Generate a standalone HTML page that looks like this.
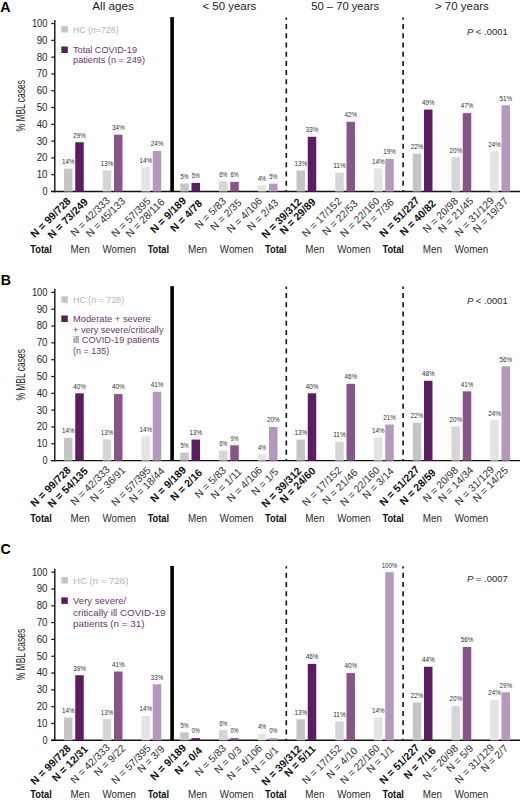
<!DOCTYPE html>
<html><head><meta charset="utf-8"><style>
html,body{margin:0;padding:0;background:#fff;width:520px;height:800px;overflow:hidden;font-family:"Liberation Sans", sans-serif;}
svg{display:block;}
</style></head><body>
<svg width="520" height="800" viewBox="0 0 520 800" font-family='"Liberation Sans", sans-serif'>
<text x="0.3" y="11.9" font-size="14.2" font-weight="bold" fill="#000">A</text>
<line x1="54.8" y1="20.00" x2="54.8" y2="192.20" stroke="#111" stroke-width="1.4"/>
<line x1="51.3" y1="191.50" x2="55" y2="191.50" stroke="#111" stroke-width="1.2"/>
<text x="47.5" y="194.90" font-size="10.2" fill="#262626" text-anchor="end" textLength="5.1" lengthAdjust="spacingAndGlyphs">0</text>
<line x1="51.3" y1="174.71" x2="55" y2="174.71" stroke="#111" stroke-width="1.2"/>
<text x="47.5" y="178.11" font-size="10.2" fill="#262626" text-anchor="end" textLength="10.8" lengthAdjust="spacingAndGlyphs">10</text>
<line x1="51.3" y1="157.91" x2="55" y2="157.91" stroke="#111" stroke-width="1.2"/>
<text x="47.5" y="161.31" font-size="10.2" fill="#262626" text-anchor="end" textLength="10.8" lengthAdjust="spacingAndGlyphs">20</text>
<line x1="51.3" y1="141.12" x2="55" y2="141.12" stroke="#111" stroke-width="1.2"/>
<text x="47.5" y="144.52" font-size="10.2" fill="#262626" text-anchor="end" textLength="10.8" lengthAdjust="spacingAndGlyphs">30</text>
<line x1="51.3" y1="124.32" x2="55" y2="124.32" stroke="#111" stroke-width="1.2"/>
<text x="47.5" y="127.72" font-size="10.2" fill="#262626" text-anchor="end" textLength="10.8" lengthAdjust="spacingAndGlyphs">40</text>
<line x1="51.3" y1="107.53" x2="55" y2="107.53" stroke="#111" stroke-width="1.2"/>
<text x="47.5" y="110.93" font-size="10.2" fill="#262626" text-anchor="end" textLength="10.8" lengthAdjust="spacingAndGlyphs">50</text>
<line x1="51.3" y1="90.74" x2="55" y2="90.74" stroke="#111" stroke-width="1.2"/>
<text x="47.5" y="94.14" font-size="10.2" fill="#262626" text-anchor="end" textLength="10.8" lengthAdjust="spacingAndGlyphs">60</text>
<line x1="51.3" y1="73.94" x2="55" y2="73.94" stroke="#111" stroke-width="1.2"/>
<text x="47.5" y="77.34" font-size="10.2" fill="#262626" text-anchor="end" textLength="10.8" lengthAdjust="spacingAndGlyphs">70</text>
<line x1="51.3" y1="57.15" x2="55" y2="57.15" stroke="#111" stroke-width="1.2"/>
<text x="47.5" y="60.55" font-size="10.2" fill="#262626" text-anchor="end" textLength="10.8" lengthAdjust="spacingAndGlyphs">80</text>
<line x1="51.3" y1="40.35" x2="55" y2="40.35" stroke="#111" stroke-width="1.2"/>
<text x="47.5" y="43.75" font-size="10.2" fill="#262626" text-anchor="end" textLength="10.8" lengthAdjust="spacingAndGlyphs">90</text>
<line x1="51.3" y1="23.56" x2="55" y2="23.56" stroke="#111" stroke-width="1.2"/>
<text x="47.5" y="26.96" font-size="10.2" fill="#262626" text-anchor="end" textLength="15.6" lengthAdjust="spacingAndGlyphs">100</text>
<text x="0" y="0" font-size="12.6" fill="#262626" text-anchor="middle" textLength="51.5" lengthAdjust="spacingAndGlyphs" transform="translate(24.9 105.75) rotate(-90)">% MBL cases</text>
<line x1="51.2" y1="191.50" x2="520" y2="191.50" stroke="#111" stroke-width="1.4"/>
<rect x="170.3" y="17.10" width="3.6" height="174.40" fill="#000"/>
<line x1="286.3" y1="17.50" x2="286.3" y2="191.50" stroke="#111" stroke-width="1.6" stroke-dasharray="5 4.22" stroke-dashoffset="2.72"/>
<line x1="403.1" y1="17.50" x2="403.1" y2="191.50" stroke="#111" stroke-width="1.6" stroke-dasharray="5 4.22" stroke-dashoffset="2.72"/>
<rect x="64.00" y="168.66" width="8.5" height="22.84" fill="#c5c5c5"/>
<text x="68.25" y="164.06" font-size="7.2" fill="#2e2e2e" text-anchor="middle" textLength="12.6" lengthAdjust="spacingAndGlyphs">14%</text>
<rect x="75.25" y="142.26" width="8.5" height="49.24" fill="#5c1c64"/>
<text x="79.50" y="137.56" font-size="7.2" fill="#2e2e2e" text-anchor="middle" textLength="12.6" lengthAdjust="spacingAndGlyphs">29%</text>
<rect x="102.75" y="170.32" width="8.5" height="21.18" fill="#d6d6d6"/>
<text x="107.00" y="165.72" font-size="7.2" fill="#2e2e2e" text-anchor="middle" textLength="12.6" lengthAdjust="spacingAndGlyphs">13%</text>
<rect x="114.00" y="134.68" width="8.5" height="56.82" fill="#87558a"/>
<text x="118.25" y="129.98" font-size="7.2" fill="#2e2e2e" text-anchor="middle" textLength="12.6" lengthAdjust="spacingAndGlyphs">34%</text>
<rect x="141.50" y="167.27" width="8.5" height="24.23" fill="#e4e4e4"/>
<text x="145.75" y="162.67" font-size="7.2" fill="#2e2e2e" text-anchor="middle" textLength="12.6" lengthAdjust="spacingAndGlyphs">14%</text>
<rect x="152.75" y="150.96" width="8.5" height="40.54" fill="#b598bd"/>
<text x="157.00" y="146.26" font-size="7.2" fill="#2e2e2e" text-anchor="middle" textLength="12.6" lengthAdjust="spacingAndGlyphs">24%</text>
<rect x="180.25" y="183.50" width="8.5" height="8.00" fill="#c5c5c5"/>
<text x="184.50" y="178.90" font-size="7.2" fill="#2e2e2e" text-anchor="middle" textLength="8.2" lengthAdjust="spacingAndGlyphs">5%</text>
<rect x="191.50" y="182.89" width="8.5" height="8.61" fill="#5c1c64"/>
<text x="195.75" y="178.19" font-size="7.2" fill="#2e2e2e" text-anchor="middle" textLength="8.2" lengthAdjust="spacingAndGlyphs">5%</text>
<rect x="219.00" y="181.38" width="8.5" height="10.12" fill="#d6d6d6"/>
<text x="223.25" y="176.78" font-size="7.2" fill="#2e2e2e" text-anchor="middle" textLength="8.2" lengthAdjust="spacingAndGlyphs">6%</text>
<rect x="230.25" y="181.90" width="8.5" height="9.60" fill="#87558a"/>
<text x="234.50" y="177.20" font-size="7.2" fill="#2e2e2e" text-anchor="middle" textLength="8.2" lengthAdjust="spacingAndGlyphs">6%</text>
<rect x="257.75" y="185.16" width="8.5" height="6.34" fill="#e4e4e4"/>
<text x="262.00" y="180.56" font-size="7.2" fill="#2e2e2e" text-anchor="middle" textLength="8.2" lengthAdjust="spacingAndGlyphs">4%</text>
<rect x="269.00" y="183.69" width="8.5" height="7.81" fill="#b598bd"/>
<text x="273.25" y="178.99" font-size="7.2" fill="#2e2e2e" text-anchor="middle" textLength="8.2" lengthAdjust="spacingAndGlyphs">5%</text>
<rect x="296.50" y="170.51" width="8.5" height="20.99" fill="#c5c5c5"/>
<text x="300.75" y="165.91" font-size="7.2" fill="#2e2e2e" text-anchor="middle" textLength="12.6" lengthAdjust="spacingAndGlyphs">13%</text>
<rect x="307.75" y="136.78" width="8.5" height="54.72" fill="#5c1c64"/>
<text x="312.00" y="132.08" font-size="7.2" fill="#2e2e2e" text-anchor="middle" textLength="12.6" lengthAdjust="spacingAndGlyphs">33%</text>
<rect x="335.25" y="172.72" width="8.5" height="18.78" fill="#d6d6d6"/>
<text x="339.50" y="168.12" font-size="7.2" fill="#2e2e2e" text-anchor="middle" textLength="12.6" lengthAdjust="spacingAndGlyphs">11%</text>
<rect x="346.50" y="121.79" width="8.5" height="69.71" fill="#87558a"/>
<text x="350.75" y="117.09" font-size="7.2" fill="#2e2e2e" text-anchor="middle" textLength="12.6" lengthAdjust="spacingAndGlyphs">42%</text>
<rect x="374.00" y="168.41" width="8.5" height="23.09" fill="#e4e4e4"/>
<text x="378.25" y="163.81" font-size="7.2" fill="#2e2e2e" text-anchor="middle" textLength="12.6" lengthAdjust="spacingAndGlyphs">14%</text>
<rect x="385.25" y="158.84" width="8.5" height="32.65" fill="#b598bd"/>
<text x="389.50" y="154.15" font-size="7.2" fill="#2e2e2e" text-anchor="middle" textLength="12.6" lengthAdjust="spacingAndGlyphs">19%</text>
<rect x="412.75" y="153.77" width="8.5" height="37.73" fill="#c5c5c5"/>
<text x="417.00" y="149.17" font-size="7.2" fill="#2e2e2e" text-anchor="middle" textLength="12.6" lengthAdjust="spacingAndGlyphs">22%</text>
<rect x="424.00" y="109.58" width="8.5" height="81.92" fill="#5c1c64"/>
<text x="428.25" y="104.88" font-size="7.2" fill="#2e2e2e" text-anchor="middle" textLength="12.6" lengthAdjust="spacingAndGlyphs">49%</text>
<rect x="451.50" y="157.23" width="8.5" height="34.27" fill="#d6d6d6"/>
<text x="455.75" y="152.63" font-size="7.2" fill="#2e2e2e" text-anchor="middle" textLength="12.6" lengthAdjust="spacingAndGlyphs">20%</text>
<rect x="462.75" y="113.13" width="8.5" height="78.37" fill="#87558a"/>
<text x="467.00" y="108.43" font-size="7.2" fill="#2e2e2e" text-anchor="middle" textLength="12.6" lengthAdjust="spacingAndGlyphs">47%</text>
<rect x="490.25" y="151.14" width="8.5" height="40.36" fill="#e4e4e4"/>
<text x="494.50" y="146.54" font-size="7.2" fill="#2e2e2e" text-anchor="middle" textLength="12.6" lengthAdjust="spacingAndGlyphs">24%</text>
<rect x="501.50" y="105.26" width="8.5" height="86.24" fill="#b598bd"/>
<text x="505.75" y="100.56" font-size="7.2" fill="#2e2e2e" text-anchor="middle" textLength="12.6" lengthAdjust="spacingAndGlyphs">51%</text>
<text x="0" y="0" font-size="10.5" font-weight="bold" fill="#111" text-anchor="end" transform="translate(71.40 201.80) rotate(-45)">N = 99/728</text>
<text x="0" y="0" font-size="10.5" font-weight="bold" fill="#111" text-anchor="end" transform="translate(88.60 202.60) rotate(-45)">N = 73/249</text>
<text x="0" y="0" font-size="10.3" fill="#2e2e2e" text-anchor="end" transform="translate(110.60 201.10) rotate(-45)">N = 42/333</text>
<text x="0" y="0" font-size="10.3" fill="#2e2e2e" text-anchor="end" transform="translate(126.00 201.80) rotate(-45)">N = 45/133</text>
<text x="0" y="0" font-size="10.3" fill="#2e2e2e" text-anchor="end" transform="translate(151.40 201.80) rotate(-45)">N = 57/395</text>
<text x="0" y="0" font-size="10.3" fill="#2e2e2e" text-anchor="end" transform="translate(165.20 202.60) rotate(-45)">N = 28/116</text>
<text x="0" y="0" font-size="10.5" font-weight="bold" fill="#111" text-anchor="end" transform="translate(186.80 201.40) rotate(-45)">N = 9/189</text>
<text x="0" y="0" font-size="10.5" font-weight="bold" fill="#111" text-anchor="end" transform="translate(202.90 204.20) rotate(-45)">N = 4/78</text>
<text x="0" y="0" font-size="10.3" fill="#2e2e2e" text-anchor="end" transform="translate(226.80 201.80) rotate(-45)">N = 5/83</text>
<text x="0" y="0" font-size="10.3" fill="#2e2e2e" text-anchor="end" transform="translate(242.20 203.40) rotate(-45)">N = 2/35</text>
<text x="0" y="0" font-size="10.3" fill="#2e2e2e" text-anchor="end" transform="translate(262.90 201.80) rotate(-45)">N = 4/106</text>
<text x="0" y="0" font-size="10.3" fill="#2e2e2e" text-anchor="end" transform="translate(279.10 203.40) rotate(-45)">N = 2/43</text>
<text x="0" y="0" font-size="10.5" font-weight="bold" fill="#111" text-anchor="end" transform="translate(302.20 202.50) rotate(-45)">N = 39/312</text>
<text x="0" y="0" font-size="10.5" font-weight="bold" fill="#111" text-anchor="end" transform="translate(316.30 202.50) rotate(-45)">N = 29/89</text>
<text x="0" y="0" font-size="10.3" fill="#2e2e2e" text-anchor="end" transform="translate(342.20 201.80) rotate(-45)">N = 17/152</text>
<text x="0" y="0" font-size="10.3" fill="#2e2e2e" text-anchor="end" transform="translate(358.30 204.20) rotate(-45)">N = 22/53</text>
<text x="0" y="0" font-size="10.3" fill="#2e2e2e" text-anchor="end" transform="translate(380.20 201.80) rotate(-45)">N = 22/160</text>
<text x="0" y="0" font-size="10.3" fill="#2e2e2e" text-anchor="end" transform="translate(394.50 202.90) rotate(-45)">N = 7/36</text>
<text x="0" y="0" font-size="10.5" font-weight="bold" fill="#111" text-anchor="end" transform="translate(420.20 201.10) rotate(-45)">N = 51/227</text>
<text x="0" y="0" font-size="10.5" font-weight="bold" fill="#111" text-anchor="end" transform="translate(436.40 204.20) rotate(-45)">N = 40/82</text>
<text x="0" y="0" font-size="10.3" fill="#2e2e2e" text-anchor="end" transform="translate(458.70 201.80) rotate(-45)">N = 20/98</text>
<text x="0" y="0" font-size="10.3" fill="#2e2e2e" text-anchor="end" transform="translate(474.10 201.80) rotate(-45)">N = 21/45</text>
<text x="0" y="0" font-size="10.3" fill="#2e2e2e" text-anchor="end" transform="translate(494.80 201.10) rotate(-45)">N = 31/129</text>
<text x="0" y="0" font-size="10.3" fill="#2e2e2e" text-anchor="end" transform="translate(508.70 201.80) rotate(-45)">N = 19/37</text>
<text x="41.00" y="252.50" font-size="10" font-weight="bold" fill="#111" text-anchor="middle" textLength="21.5" lengthAdjust="spacingAndGlyphs">Total</text>
<text x="80.13" y="252.50" font-size="10" fill="#2c2c2c" text-anchor="middle" textLength="19.2" lengthAdjust="spacingAndGlyphs">Men</text>
<text x="119.26" y="252.50" font-size="10" fill="#2c2c2c" text-anchor="middle" textLength="33.6" lengthAdjust="spacingAndGlyphs">Women</text>
<text x="158.39" y="252.50" font-size="10" font-weight="bold" fill="#111" text-anchor="middle" textLength="21.5" lengthAdjust="spacingAndGlyphs">Total</text>
<text x="197.52" y="252.50" font-size="10" fill="#2c2c2c" text-anchor="middle" textLength="19.2" lengthAdjust="spacingAndGlyphs">Men</text>
<text x="236.65" y="252.50" font-size="10" fill="#2c2c2c" text-anchor="middle" textLength="33.6" lengthAdjust="spacingAndGlyphs">Women</text>
<text x="275.78" y="252.50" font-size="10" font-weight="bold" fill="#111" text-anchor="middle" textLength="21.5" lengthAdjust="spacingAndGlyphs">Total</text>
<text x="314.91" y="252.50" font-size="10" fill="#2c2c2c" text-anchor="middle" textLength="19.2" lengthAdjust="spacingAndGlyphs">Men</text>
<text x="354.04" y="252.50" font-size="10" fill="#2c2c2c" text-anchor="middle" textLength="33.6" lengthAdjust="spacingAndGlyphs">Women</text>
<text x="393.17" y="252.50" font-size="10" font-weight="bold" fill="#111" text-anchor="middle" textLength="21.5" lengthAdjust="spacingAndGlyphs">Total</text>
<text x="432.30" y="252.50" font-size="10" fill="#2c2c2c" text-anchor="middle" textLength="19.2" lengthAdjust="spacingAndGlyphs">Men</text>
<text x="471.43" y="252.50" font-size="10" fill="#2c2c2c" text-anchor="middle" textLength="33.6" lengthAdjust="spacingAndGlyphs">Women</text>
<rect x="61.3" y="26.00" width="6.5" height="6.5" fill="#c5c5c5"/>
<text x="73" y="33.00" font-size="9.3" fill="#b4b4b4" textLength="45.6" lengthAdjust="spacingAndGlyphs">HC (<tspan font-style="italic">n</tspan>=728)</text>
<rect x="61.3" y="46.50" width="6.5" height="6.5" fill="#5c1c62"/>
<text x="73" y="53.00" font-size="9.3" fill="#6a3570" textLength="64" lengthAdjust="spacingAndGlyphs">Total COVID-19</text>
<text x="73" y="63.30" font-size="9.3" fill="#6a3570" textLength="72" lengthAdjust="spacingAndGlyphs">patients (n = 249)</text>
<text x="466.9" y="35.30" font-size="9.6" fill="#2a2a2a" textLength="40.8" lengthAdjust="spacingAndGlyphs"><tspan font-style="italic">P</tspan> &lt; .0001</text>
<text x="0.8" y="285.2" font-size="14.2" font-weight="bold" fill="#000">B</text>
<line x1="54.8" y1="289.10" x2="54.8" y2="461.30" stroke="#111" stroke-width="1.4"/>
<line x1="51.3" y1="460.60" x2="55" y2="460.60" stroke="#111" stroke-width="1.2"/>
<text x="47.5" y="464.00" font-size="10.2" fill="#262626" text-anchor="end" textLength="5.1" lengthAdjust="spacingAndGlyphs">0</text>
<line x1="51.3" y1="443.78" x2="55" y2="443.78" stroke="#111" stroke-width="1.2"/>
<text x="47.5" y="447.18" font-size="10.2" fill="#262626" text-anchor="end" textLength="10.8" lengthAdjust="spacingAndGlyphs">10</text>
<line x1="51.3" y1="426.96" x2="55" y2="426.96" stroke="#111" stroke-width="1.2"/>
<text x="47.5" y="430.36" font-size="10.2" fill="#262626" text-anchor="end" textLength="10.8" lengthAdjust="spacingAndGlyphs">20</text>
<line x1="51.3" y1="410.14" x2="55" y2="410.14" stroke="#111" stroke-width="1.2"/>
<text x="47.5" y="413.54" font-size="10.2" fill="#262626" text-anchor="end" textLength="10.8" lengthAdjust="spacingAndGlyphs">30</text>
<line x1="51.3" y1="393.32" x2="55" y2="393.32" stroke="#111" stroke-width="1.2"/>
<text x="47.5" y="396.72" font-size="10.2" fill="#262626" text-anchor="end" textLength="10.8" lengthAdjust="spacingAndGlyphs">40</text>
<line x1="51.3" y1="376.50" x2="55" y2="376.50" stroke="#111" stroke-width="1.2"/>
<text x="47.5" y="379.90" font-size="10.2" fill="#262626" text-anchor="end" textLength="10.8" lengthAdjust="spacingAndGlyphs">50</text>
<line x1="51.3" y1="359.68" x2="55" y2="359.68" stroke="#111" stroke-width="1.2"/>
<text x="47.5" y="363.08" font-size="10.2" fill="#262626" text-anchor="end" textLength="10.8" lengthAdjust="spacingAndGlyphs">60</text>
<line x1="51.3" y1="342.86" x2="55" y2="342.86" stroke="#111" stroke-width="1.2"/>
<text x="47.5" y="346.26" font-size="10.2" fill="#262626" text-anchor="end" textLength="10.8" lengthAdjust="spacingAndGlyphs">70</text>
<line x1="51.3" y1="326.04" x2="55" y2="326.04" stroke="#111" stroke-width="1.2"/>
<text x="47.5" y="329.44" font-size="10.2" fill="#262626" text-anchor="end" textLength="10.8" lengthAdjust="spacingAndGlyphs">80</text>
<line x1="51.3" y1="309.22" x2="55" y2="309.22" stroke="#111" stroke-width="1.2"/>
<text x="47.5" y="312.62" font-size="10.2" fill="#262626" text-anchor="end" textLength="10.8" lengthAdjust="spacingAndGlyphs">90</text>
<line x1="51.3" y1="292.40" x2="55" y2="292.40" stroke="#111" stroke-width="1.2"/>
<text x="47.5" y="295.80" font-size="10.2" fill="#262626" text-anchor="end" textLength="15.6" lengthAdjust="spacingAndGlyphs">100</text>
<text x="0" y="0" font-size="12.6" fill="#262626" text-anchor="middle" textLength="51.5" lengthAdjust="spacingAndGlyphs" transform="translate(24.9 374.85) rotate(-90)">% MBL cases</text>
<line x1="51.2" y1="460.60" x2="520" y2="460.60" stroke="#111" stroke-width="1.4"/>
<rect x="170.3" y="286.20" width="3.6" height="174.40" fill="#000"/>
<line x1="286.3" y1="286.60" x2="286.3" y2="460.60" stroke="#111" stroke-width="1.6" stroke-dasharray="5 4.22" stroke-dashoffset="2.72"/>
<line x1="403.1" y1="286.60" x2="403.1" y2="460.60" stroke="#111" stroke-width="1.6" stroke-dasharray="5 4.22" stroke-dashoffset="2.72"/>
<rect x="64.00" y="437.73" width="8.5" height="22.87" fill="#c5c5c5"/>
<text x="68.25" y="433.13" font-size="7.2" fill="#2e2e2e" text-anchor="middle" textLength="12.6" lengthAdjust="spacingAndGlyphs">14%</text>
<rect x="75.25" y="393.32" width="8.5" height="67.28" fill="#5c1c64"/>
<text x="79.50" y="388.62" font-size="7.2" fill="#2e2e2e" text-anchor="middle" textLength="12.6" lengthAdjust="spacingAndGlyphs">40%</text>
<rect x="102.75" y="439.39" width="8.5" height="21.21" fill="#d6d6d6"/>
<text x="107.00" y="434.79" font-size="7.2" fill="#2e2e2e" text-anchor="middle" textLength="12.6" lengthAdjust="spacingAndGlyphs">13%</text>
<rect x="114.00" y="394.06" width="8.5" height="66.54" fill="#87558a"/>
<text x="118.25" y="389.36" font-size="7.2" fill="#2e2e2e" text-anchor="middle" textLength="12.6" lengthAdjust="spacingAndGlyphs">40%</text>
<rect x="141.50" y="436.33" width="8.5" height="24.27" fill="#e4e4e4"/>
<text x="145.75" y="431.73" font-size="7.2" fill="#2e2e2e" text-anchor="middle" textLength="12.6" lengthAdjust="spacingAndGlyphs">14%</text>
<rect x="152.75" y="391.79" width="8.5" height="68.81" fill="#b598bd"/>
<text x="157.00" y="387.09" font-size="7.2" fill="#2e2e2e" text-anchor="middle" textLength="12.6" lengthAdjust="spacingAndGlyphs">41%</text>
<rect x="180.25" y="452.59" width="8.5" height="8.01" fill="#c5c5c5"/>
<text x="184.50" y="447.99" font-size="7.2" fill="#2e2e2e" text-anchor="middle" textLength="8.2" lengthAdjust="spacingAndGlyphs">5%</text>
<rect x="191.50" y="439.58" width="8.5" height="21.03" fill="#5c1c64"/>
<text x="195.75" y="434.88" font-size="7.2" fill="#2e2e2e" text-anchor="middle" textLength="12.6" lengthAdjust="spacingAndGlyphs">13%</text>
<rect x="219.00" y="450.47" width="8.5" height="10.13" fill="#d6d6d6"/>
<text x="223.25" y="445.87" font-size="7.2" fill="#2e2e2e" text-anchor="middle" textLength="8.2" lengthAdjust="spacingAndGlyphs">6%</text>
<rect x="230.25" y="445.31" width="8.5" height="15.29" fill="#87558a"/>
<text x="234.50" y="440.61" font-size="7.2" fill="#2e2e2e" text-anchor="middle" textLength="8.2" lengthAdjust="spacingAndGlyphs">9%</text>
<rect x="257.75" y="454.25" width="8.5" height="6.35" fill="#e4e4e4"/>
<text x="262.00" y="449.65" font-size="7.2" fill="#2e2e2e" text-anchor="middle" textLength="8.2" lengthAdjust="spacingAndGlyphs">4%</text>
<rect x="269.00" y="426.96" width="8.5" height="33.64" fill="#b598bd"/>
<text x="273.25" y="422.26" font-size="7.2" fill="#2e2e2e" text-anchor="middle" textLength="12.6" lengthAdjust="spacingAndGlyphs">20%</text>
<rect x="296.50" y="439.58" width="8.5" height="21.03" fill="#c5c5c5"/>
<text x="300.75" y="434.98" font-size="7.2" fill="#2e2e2e" text-anchor="middle" textLength="12.6" lengthAdjust="spacingAndGlyphs">13%</text>
<rect x="307.75" y="393.32" width="8.5" height="67.28" fill="#5c1c64"/>
<text x="312.00" y="388.62" font-size="7.2" fill="#2e2e2e" text-anchor="middle" textLength="12.6" lengthAdjust="spacingAndGlyphs">40%</text>
<rect x="335.25" y="441.79" width="8.5" height="18.81" fill="#d6d6d6"/>
<text x="339.50" y="437.19" font-size="7.2" fill="#2e2e2e" text-anchor="middle" textLength="12.6" lengthAdjust="spacingAndGlyphs">11%</text>
<rect x="346.50" y="383.81" width="8.5" height="76.79" fill="#87558a"/>
<text x="350.75" y="379.11" font-size="7.2" fill="#2e2e2e" text-anchor="middle" textLength="12.6" lengthAdjust="spacingAndGlyphs">46%</text>
<rect x="374.00" y="437.47" width="8.5" height="23.13" fill="#e4e4e4"/>
<text x="378.25" y="432.87" font-size="7.2" fill="#2e2e2e" text-anchor="middle" textLength="12.6" lengthAdjust="spacingAndGlyphs">14%</text>
<rect x="385.25" y="424.56" width="8.5" height="36.04" fill="#b598bd"/>
<text x="389.50" y="419.86" font-size="7.2" fill="#2e2e2e" text-anchor="middle" textLength="12.6" lengthAdjust="spacingAndGlyphs">21%</text>
<rect x="412.75" y="422.81" width="8.5" height="37.79" fill="#c5c5c5"/>
<text x="417.00" y="418.21" font-size="7.2" fill="#2e2e2e" text-anchor="middle" textLength="12.6" lengthAdjust="spacingAndGlyphs">22%</text>
<rect x="424.00" y="380.78" width="8.5" height="79.82" fill="#5c1c64"/>
<text x="428.25" y="376.08" font-size="7.2" fill="#2e2e2e" text-anchor="middle" textLength="12.6" lengthAdjust="spacingAndGlyphs">48%</text>
<rect x="451.50" y="426.27" width="8.5" height="34.33" fill="#d6d6d6"/>
<text x="455.75" y="421.67" font-size="7.2" fill="#2e2e2e" text-anchor="middle" textLength="12.6" lengthAdjust="spacingAndGlyphs">20%</text>
<rect x="462.75" y="391.34" width="8.5" height="69.26" fill="#87558a"/>
<text x="467.00" y="386.64" font-size="7.2" fill="#2e2e2e" text-anchor="middle" textLength="12.6" lengthAdjust="spacingAndGlyphs">41%</text>
<rect x="490.25" y="420.18" width="8.5" height="40.42" fill="#e4e4e4"/>
<text x="494.50" y="415.58" font-size="7.2" fill="#2e2e2e" text-anchor="middle" textLength="12.6" lengthAdjust="spacingAndGlyphs">24%</text>
<rect x="501.50" y="366.41" width="8.5" height="94.19" fill="#b598bd"/>
<text x="505.75" y="361.71" font-size="7.2" fill="#2e2e2e" text-anchor="middle" textLength="12.6" lengthAdjust="spacingAndGlyphs">56%</text>
<text x="0" y="0" font-size="10.5" font-weight="bold" fill="#111" text-anchor="end" transform="translate(71.40 470.90) rotate(-45)">N = 99/728</text>
<text x="0" y="0" font-size="10.5" font-weight="bold" fill="#111" text-anchor="end" transform="translate(88.60 471.70) rotate(-45)">N = 54/135</text>
<text x="0" y="0" font-size="10.3" fill="#2e2e2e" text-anchor="end" transform="translate(110.60 470.20) rotate(-45)">N = 42/333</text>
<text x="0" y="0" font-size="10.3" fill="#2e2e2e" text-anchor="end" transform="translate(126.00 470.90) rotate(-45)">N = 36/91</text>
<text x="0" y="0" font-size="10.3" fill="#2e2e2e" text-anchor="end" transform="translate(151.40 470.90) rotate(-45)">N = 57/395</text>
<text x="0" y="0" font-size="10.3" fill="#2e2e2e" text-anchor="end" transform="translate(165.20 471.70) rotate(-45)">N = 18/44</text>
<text x="0" y="0" font-size="10.5" font-weight="bold" fill="#111" text-anchor="end" transform="translate(186.80 470.50) rotate(-45)">N = 9/189</text>
<text x="0" y="0" font-size="10.5" font-weight="bold" fill="#111" text-anchor="end" transform="translate(202.90 473.30) rotate(-45)">N = 2/16</text>
<text x="0" y="0" font-size="10.3" fill="#2e2e2e" text-anchor="end" transform="translate(226.80 470.90) rotate(-45)">N = 5/83</text>
<text x="0" y="0" font-size="10.3" fill="#2e2e2e" text-anchor="end" transform="translate(242.20 472.50) rotate(-45)">N = 1/11</text>
<text x="0" y="0" font-size="10.3" fill="#2e2e2e" text-anchor="end" transform="translate(262.90 470.90) rotate(-45)">N = 4/106</text>
<text x="0" y="0" font-size="10.3" fill="#2e2e2e" text-anchor="end" transform="translate(279.10 472.50) rotate(-45)">N = 1/5</text>
<text x="0" y="0" font-size="10.5" font-weight="bold" fill="#111" text-anchor="end" transform="translate(302.20 471.60) rotate(-45)">N = 39/312</text>
<text x="0" y="0" font-size="10.5" font-weight="bold" fill="#111" text-anchor="end" transform="translate(316.30 471.60) rotate(-45)">N = 24/60</text>
<text x="0" y="0" font-size="10.3" fill="#2e2e2e" text-anchor="end" transform="translate(342.20 470.90) rotate(-45)">N = 17/152</text>
<text x="0" y="0" font-size="10.3" fill="#2e2e2e" text-anchor="end" transform="translate(358.30 473.30) rotate(-45)">N = 21/46</text>
<text x="0" y="0" font-size="10.3" fill="#2e2e2e" text-anchor="end" transform="translate(380.20 470.90) rotate(-45)">N = 22/160</text>
<text x="0" y="0" font-size="10.3" fill="#2e2e2e" text-anchor="end" transform="translate(394.50 472.00) rotate(-45)">N = 3/14</text>
<text x="0" y="0" font-size="10.5" font-weight="bold" fill="#111" text-anchor="end" transform="translate(420.20 470.20) rotate(-45)">N = 51/227</text>
<text x="0" y="0" font-size="10.5" font-weight="bold" fill="#111" text-anchor="end" transform="translate(436.40 473.30) rotate(-45)">N = 28/59</text>
<text x="0" y="0" font-size="10.3" fill="#2e2e2e" text-anchor="end" transform="translate(458.70 470.90) rotate(-45)">N = 20/98</text>
<text x="0" y="0" font-size="10.3" fill="#2e2e2e" text-anchor="end" transform="translate(474.10 470.90) rotate(-45)">N = 14/34</text>
<text x="0" y="0" font-size="10.3" fill="#2e2e2e" text-anchor="end" transform="translate(494.80 470.20) rotate(-45)">N = 31/129</text>
<text x="0" y="0" font-size="10.3" fill="#2e2e2e" text-anchor="end" transform="translate(508.70 470.90) rotate(-45)">N = 14/25</text>
<text x="41.00" y="521.70" font-size="10" font-weight="bold" fill="#111" text-anchor="middle" textLength="21.5" lengthAdjust="spacingAndGlyphs">Total</text>
<text x="80.13" y="521.70" font-size="10" fill="#2c2c2c" text-anchor="middle" textLength="19.2" lengthAdjust="spacingAndGlyphs">Men</text>
<text x="119.26" y="521.70" font-size="10" fill="#2c2c2c" text-anchor="middle" textLength="33.6" lengthAdjust="spacingAndGlyphs">Women</text>
<text x="158.39" y="521.70" font-size="10" font-weight="bold" fill="#111" text-anchor="middle" textLength="21.5" lengthAdjust="spacingAndGlyphs">Total</text>
<text x="197.52" y="521.70" font-size="10" fill="#2c2c2c" text-anchor="middle" textLength="19.2" lengthAdjust="spacingAndGlyphs">Men</text>
<text x="236.65" y="521.70" font-size="10" fill="#2c2c2c" text-anchor="middle" textLength="33.6" lengthAdjust="spacingAndGlyphs">Women</text>
<text x="275.78" y="521.70" font-size="10" font-weight="bold" fill="#111" text-anchor="middle" textLength="21.5" lengthAdjust="spacingAndGlyphs">Total</text>
<text x="314.91" y="521.70" font-size="10" fill="#2c2c2c" text-anchor="middle" textLength="19.2" lengthAdjust="spacingAndGlyphs">Men</text>
<text x="354.04" y="521.70" font-size="10" fill="#2c2c2c" text-anchor="middle" textLength="33.6" lengthAdjust="spacingAndGlyphs">Women</text>
<text x="393.17" y="521.70" font-size="10" font-weight="bold" fill="#111" text-anchor="middle" textLength="21.5" lengthAdjust="spacingAndGlyphs">Total</text>
<text x="432.30" y="521.70" font-size="10" fill="#2c2c2c" text-anchor="middle" textLength="19.2" lengthAdjust="spacingAndGlyphs">Men</text>
<text x="471.43" y="521.70" font-size="10" fill="#2c2c2c" text-anchor="middle" textLength="33.6" lengthAdjust="spacingAndGlyphs">Women</text>
<rect x="61.3" y="296.30" width="6.5" height="6.5" fill="#c5c5c5"/>
<text x="73" y="303.30" font-size="9.4" fill="#b4b4b4" textLength="51.3" lengthAdjust="spacingAndGlyphs">HC (n = 728)</text>
<rect x="61.3" y="315.50" width="6.5" height="6.5" fill="#5c1c62"/>
<text x="73" y="322.00" font-size="9.4" fill="#6a3570" textLength="77.8" lengthAdjust="spacingAndGlyphs">Moderate + severe</text>
<text x="73" y="332.55" font-size="9.4" fill="#6a3570" textLength="90.5" lengthAdjust="spacingAndGlyphs">+ very severe/critically</text>
<text x="73" y="343.10" font-size="9.4" fill="#6a3570" textLength="86.4" lengthAdjust="spacingAndGlyphs">ill COVID-19 patients</text>
<text x="73" y="353.65" font-size="9.4" fill="#6a3570" textLength="36.3" lengthAdjust="spacingAndGlyphs">(n = 135)</text>
<text x="466.9" y="303.80" font-size="9.6" fill="#2a2a2a" textLength="40.8" lengthAdjust="spacingAndGlyphs"><tspan font-style="italic">P</tspan> &lt; .0001</text>
<text x="0.5" y="554.3" font-size="14.2" font-weight="bold" fill="#000">C</text>
<line x1="54.8" y1="568.80" x2="54.8" y2="741.00" stroke="#111" stroke-width="1.4"/>
<line x1="51.3" y1="740.30" x2="55" y2="740.30" stroke="#111" stroke-width="1.2"/>
<text x="47.5" y="743.70" font-size="10.2" fill="#262626" text-anchor="end" textLength="5.1" lengthAdjust="spacingAndGlyphs">0</text>
<line x1="51.3" y1="723.49" x2="55" y2="723.49" stroke="#111" stroke-width="1.2"/>
<text x="47.5" y="726.89" font-size="10.2" fill="#262626" text-anchor="end" textLength="10.8" lengthAdjust="spacingAndGlyphs">10</text>
<line x1="51.3" y1="706.68" x2="55" y2="706.68" stroke="#111" stroke-width="1.2"/>
<text x="47.5" y="710.08" font-size="10.2" fill="#262626" text-anchor="end" textLength="10.8" lengthAdjust="spacingAndGlyphs">20</text>
<line x1="51.3" y1="689.87" x2="55" y2="689.87" stroke="#111" stroke-width="1.2"/>
<text x="47.5" y="693.27" font-size="10.2" fill="#262626" text-anchor="end" textLength="10.8" lengthAdjust="spacingAndGlyphs">30</text>
<line x1="51.3" y1="673.06" x2="55" y2="673.06" stroke="#111" stroke-width="1.2"/>
<text x="47.5" y="676.46" font-size="10.2" fill="#262626" text-anchor="end" textLength="10.8" lengthAdjust="spacingAndGlyphs">40</text>
<line x1="51.3" y1="656.25" x2="55" y2="656.25" stroke="#111" stroke-width="1.2"/>
<text x="47.5" y="659.65" font-size="10.2" fill="#262626" text-anchor="end" textLength="10.8" lengthAdjust="spacingAndGlyphs">50</text>
<line x1="51.3" y1="639.44" x2="55" y2="639.44" stroke="#111" stroke-width="1.2"/>
<text x="47.5" y="642.84" font-size="10.2" fill="#262626" text-anchor="end" textLength="10.8" lengthAdjust="spacingAndGlyphs">60</text>
<line x1="51.3" y1="622.63" x2="55" y2="622.63" stroke="#111" stroke-width="1.2"/>
<text x="47.5" y="626.03" font-size="10.2" fill="#262626" text-anchor="end" textLength="10.8" lengthAdjust="spacingAndGlyphs">70</text>
<line x1="51.3" y1="605.82" x2="55" y2="605.82" stroke="#111" stroke-width="1.2"/>
<text x="47.5" y="609.22" font-size="10.2" fill="#262626" text-anchor="end" textLength="10.8" lengthAdjust="spacingAndGlyphs">80</text>
<line x1="51.3" y1="589.01" x2="55" y2="589.01" stroke="#111" stroke-width="1.2"/>
<text x="47.5" y="592.41" font-size="10.2" fill="#262626" text-anchor="end" textLength="10.8" lengthAdjust="spacingAndGlyphs">90</text>
<line x1="51.3" y1="572.20" x2="55" y2="572.20" stroke="#111" stroke-width="1.2"/>
<text x="47.5" y="575.60" font-size="10.2" fill="#262626" text-anchor="end" textLength="15.6" lengthAdjust="spacingAndGlyphs">100</text>
<text x="0" y="0" font-size="12.6" fill="#262626" text-anchor="middle" textLength="51.5" lengthAdjust="spacingAndGlyphs" transform="translate(24.9 654.55) rotate(-90)">% MBL cases</text>
<line x1="51.2" y1="740.30" x2="520" y2="740.30" stroke="#111" stroke-width="1.4"/>
<rect x="170.3" y="565.90" width="3.6" height="174.40" fill="#000"/>
<line x1="286.3" y1="566.30" x2="286.3" y2="740.30" stroke="#111" stroke-width="1.6" stroke-dasharray="5 4.22" stroke-dashoffset="2.72"/>
<line x1="403.1" y1="566.30" x2="403.1" y2="740.30" stroke="#111" stroke-width="1.6" stroke-dasharray="5 4.22" stroke-dashoffset="2.72"/>
<rect x="64.00" y="717.44" width="8.5" height="22.86" fill="#c5c5c5"/>
<text x="68.25" y="712.84" font-size="7.2" fill="#2e2e2e" text-anchor="middle" textLength="12.6" lengthAdjust="spacingAndGlyphs">14%</text>
<rect x="75.25" y="675.23" width="8.5" height="65.07" fill="#5c1c64"/>
<text x="79.50" y="670.53" font-size="7.2" fill="#2e2e2e" text-anchor="middle" textLength="12.6" lengthAdjust="spacingAndGlyphs">39%</text>
<rect x="102.75" y="719.10" width="8.5" height="21.20" fill="#d6d6d6"/>
<text x="107.00" y="714.50" font-size="7.2" fill="#2e2e2e" text-anchor="middle" textLength="12.6" lengthAdjust="spacingAndGlyphs">13%</text>
<rect x="114.00" y="671.53" width="8.5" height="68.77" fill="#87558a"/>
<text x="118.25" y="666.83" font-size="7.2" fill="#2e2e2e" text-anchor="middle" textLength="12.6" lengthAdjust="spacingAndGlyphs">41%</text>
<rect x="141.50" y="716.04" width="8.5" height="24.26" fill="#e4e4e4"/>
<text x="145.75" y="711.44" font-size="7.2" fill="#2e2e2e" text-anchor="middle" textLength="12.6" lengthAdjust="spacingAndGlyphs">14%</text>
<rect x="152.75" y="684.27" width="8.5" height="56.03" fill="#b598bd"/>
<text x="157.00" y="679.57" font-size="7.2" fill="#2e2e2e" text-anchor="middle" textLength="12.6" lengthAdjust="spacingAndGlyphs">33%</text>
<rect x="180.25" y="732.30" width="8.5" height="8.00" fill="#c5c5c5"/>
<text x="184.50" y="727.70" font-size="7.2" fill="#2e2e2e" text-anchor="middle" textLength="8.2" lengthAdjust="spacingAndGlyphs">5%</text>
<rect x="191.50" y="738.10" width="8.5" height="2.20" fill="#5c1c64"/>
<text x="195.75" y="733.40" font-size="7.2" fill="#2e2e2e" text-anchor="middle" textLength="8.2" lengthAdjust="spacingAndGlyphs">0%</text>
<rect x="219.00" y="730.17" width="8.5" height="10.13" fill="#d6d6d6"/>
<text x="223.25" y="725.57" font-size="7.2" fill="#2e2e2e" text-anchor="middle" textLength="8.2" lengthAdjust="spacingAndGlyphs">6%</text>
<rect x="230.25" y="738.10" width="8.5" height="2.20" fill="#87558a"/>
<text x="234.50" y="733.40" font-size="7.2" fill="#2e2e2e" text-anchor="middle" textLength="8.2" lengthAdjust="spacingAndGlyphs">0%</text>
<rect x="257.75" y="733.96" width="8.5" height="6.34" fill="#e4e4e4"/>
<text x="262.00" y="729.36" font-size="7.2" fill="#2e2e2e" text-anchor="middle" textLength="8.2" lengthAdjust="spacingAndGlyphs">4%</text>
<rect x="269.00" y="738.10" width="8.5" height="2.20" fill="#b598bd"/>
<text x="273.25" y="733.40" font-size="7.2" fill="#2e2e2e" text-anchor="middle" textLength="8.2" lengthAdjust="spacingAndGlyphs">0%</text>
<rect x="296.50" y="719.29" width="8.5" height="21.01" fill="#c5c5c5"/>
<text x="300.75" y="714.69" font-size="7.2" fill="#2e2e2e" text-anchor="middle" textLength="12.6" lengthAdjust="spacingAndGlyphs">13%</text>
<rect x="307.75" y="663.89" width="8.5" height="76.41" fill="#5c1c64"/>
<text x="312.00" y="659.19" font-size="7.2" fill="#2e2e2e" text-anchor="middle" textLength="12.6" lengthAdjust="spacingAndGlyphs">46%</text>
<rect x="335.25" y="721.50" width="8.5" height="18.80" fill="#d6d6d6"/>
<text x="339.50" y="716.90" font-size="7.2" fill="#2e2e2e" text-anchor="middle" textLength="12.6" lengthAdjust="spacingAndGlyphs">11%</text>
<rect x="346.50" y="673.06" width="8.5" height="67.24" fill="#87558a"/>
<text x="350.75" y="668.36" font-size="7.2" fill="#2e2e2e" text-anchor="middle" textLength="12.6" lengthAdjust="spacingAndGlyphs">40%</text>
<rect x="374.00" y="717.19" width="8.5" height="23.11" fill="#e4e4e4"/>
<text x="378.25" y="712.59" font-size="7.2" fill="#2e2e2e" text-anchor="middle" textLength="12.6" lengthAdjust="spacingAndGlyphs">14%</text>
<rect x="385.25" y="572.20" width="8.5" height="168.10" fill="#b598bd"/>
<text x="389.50" y="567.50" font-size="7.2" fill="#2e2e2e" text-anchor="middle" textLength="15.6" lengthAdjust="spacingAndGlyphs">100%</text>
<rect x="412.75" y="702.53" width="8.5" height="37.77" fill="#c5c5c5"/>
<text x="417.00" y="697.93" font-size="7.2" fill="#2e2e2e" text-anchor="middle" textLength="12.6" lengthAdjust="spacingAndGlyphs">22%</text>
<rect x="424.00" y="666.76" width="8.5" height="73.54" fill="#5c1c64"/>
<text x="428.25" y="662.06" font-size="7.2" fill="#2e2e2e" text-anchor="middle" textLength="12.6" lengthAdjust="spacingAndGlyphs">44%</text>
<rect x="451.50" y="705.99" width="8.5" height="34.31" fill="#d6d6d6"/>
<text x="455.75" y="701.39" font-size="7.2" fill="#2e2e2e" text-anchor="middle" textLength="12.6" lengthAdjust="spacingAndGlyphs">20%</text>
<rect x="462.75" y="646.91" width="8.5" height="93.39" fill="#87558a"/>
<text x="467.00" y="642.21" font-size="7.2" fill="#2e2e2e" text-anchor="middle" textLength="12.6" lengthAdjust="spacingAndGlyphs">56%</text>
<rect x="490.25" y="699.90" width="8.5" height="40.40" fill="#e4e4e4"/>
<text x="494.50" y="695.30" font-size="7.2" fill="#2e2e2e" text-anchor="middle" textLength="12.6" lengthAdjust="spacingAndGlyphs">24%</text>
<rect x="501.50" y="692.27" width="8.5" height="48.03" fill="#b598bd"/>
<text x="505.75" y="687.57" font-size="7.2" fill="#2e2e2e" text-anchor="middle" textLength="12.6" lengthAdjust="spacingAndGlyphs">29%</text>
<text x="0" y="0" font-size="10.5" font-weight="bold" fill="#111" text-anchor="end" transform="translate(71.40 749.00) rotate(-45)">N = 99/728</text>
<text x="0" y="0" font-size="10.5" font-weight="bold" fill="#111" text-anchor="end" transform="translate(88.60 749.80) rotate(-45)">N = 12/31</text>
<text x="0" y="0" font-size="10.3" fill="#2e2e2e" text-anchor="end" transform="translate(110.60 748.30) rotate(-45)">N = 42/333</text>
<text x="0" y="0" font-size="10.3" fill="#2e2e2e" text-anchor="end" transform="translate(126.00 749.00) rotate(-45)">N = 9/22</text>
<text x="0" y="0" font-size="10.3" fill="#2e2e2e" text-anchor="end" transform="translate(151.40 749.00) rotate(-45)">N = 57/395</text>
<text x="0" y="0" font-size="10.3" fill="#2e2e2e" text-anchor="end" transform="translate(165.20 749.80) rotate(-45)">N = 3/9</text>
<text x="0" y="0" font-size="10.5" font-weight="bold" fill="#111" text-anchor="end" transform="translate(186.80 748.60) rotate(-45)">N = 9/189</text>
<text x="0" y="0" font-size="10.5" font-weight="bold" fill="#111" text-anchor="end" transform="translate(202.90 751.40) rotate(-45)">N = 0/4</text>
<text x="0" y="0" font-size="10.3" fill="#2e2e2e" text-anchor="end" transform="translate(226.80 749.00) rotate(-45)">N = 5/83</text>
<text x="0" y="0" font-size="10.3" fill="#2e2e2e" text-anchor="end" transform="translate(242.20 750.60) rotate(-45)">N = 0/3</text>
<text x="0" y="0" font-size="10.3" fill="#2e2e2e" text-anchor="end" transform="translate(262.90 749.00) rotate(-45)">N = 4/106</text>
<text x="0" y="0" font-size="10.3" fill="#2e2e2e" text-anchor="end" transform="translate(279.10 750.60) rotate(-45)">N = 0/1</text>
<text x="0" y="0" font-size="10.5" font-weight="bold" fill="#111" text-anchor="end" transform="translate(302.20 749.70) rotate(-45)">N = 39/312</text>
<text x="0" y="0" font-size="10.5" font-weight="bold" fill="#111" text-anchor="end" transform="translate(316.30 749.70) rotate(-45)">N = 5/11</text>
<text x="0" y="0" font-size="10.3" fill="#2e2e2e" text-anchor="end" transform="translate(342.20 749.00) rotate(-45)">N = 17/152</text>
<text x="0" y="0" font-size="10.3" fill="#2e2e2e" text-anchor="end" transform="translate(358.30 751.40) rotate(-45)">N = 4/10</text>
<text x="0" y="0" font-size="10.3" fill="#2e2e2e" text-anchor="end" transform="translate(380.20 749.00) rotate(-45)">N = 22/160</text>
<text x="0" y="0" font-size="10.3" fill="#2e2e2e" text-anchor="end" transform="translate(394.50 750.10) rotate(-45)">N = 1/1</text>
<text x="0" y="0" font-size="10.5" font-weight="bold" fill="#111" text-anchor="end" transform="translate(420.20 748.30) rotate(-45)">N = 51/227</text>
<text x="0" y="0" font-size="10.5" font-weight="bold" fill="#111" text-anchor="end" transform="translate(436.40 751.40) rotate(-45)">N = 7/16</text>
<text x="0" y="0" font-size="10.3" fill="#2e2e2e" text-anchor="end" transform="translate(458.70 749.00) rotate(-45)">N = 20/98</text>
<text x="0" y="0" font-size="10.3" fill="#2e2e2e" text-anchor="end" transform="translate(474.10 749.00) rotate(-45)">N = 5/9</text>
<text x="0" y="0" font-size="10.3" fill="#2e2e2e" text-anchor="end" transform="translate(494.80 748.30) rotate(-45)">N = 31/129</text>
<text x="0" y="0" font-size="10.3" fill="#2e2e2e" text-anchor="end" transform="translate(508.70 749.00) rotate(-45)">N = 2/7</text>
<text x="41.00" y="798.10" font-size="10" font-weight="bold" fill="#111" text-anchor="middle" textLength="21.5" lengthAdjust="spacingAndGlyphs">Total</text>
<text x="80.13" y="798.10" font-size="10" fill="#2c2c2c" text-anchor="middle" textLength="19.2" lengthAdjust="spacingAndGlyphs">Men</text>
<text x="119.26" y="798.10" font-size="10" fill="#2c2c2c" text-anchor="middle" textLength="33.6" lengthAdjust="spacingAndGlyphs">Women</text>
<text x="158.39" y="798.10" font-size="10" font-weight="bold" fill="#111" text-anchor="middle" textLength="21.5" lengthAdjust="spacingAndGlyphs">Total</text>
<text x="197.52" y="798.10" font-size="10" fill="#2c2c2c" text-anchor="middle" textLength="19.2" lengthAdjust="spacingAndGlyphs">Men</text>
<text x="236.65" y="798.10" font-size="10" fill="#2c2c2c" text-anchor="middle" textLength="33.6" lengthAdjust="spacingAndGlyphs">Women</text>
<text x="275.78" y="798.10" font-size="10" font-weight="bold" fill="#111" text-anchor="middle" textLength="21.5" lengthAdjust="spacingAndGlyphs">Total</text>
<text x="314.91" y="798.10" font-size="10" fill="#2c2c2c" text-anchor="middle" textLength="19.2" lengthAdjust="spacingAndGlyphs">Men</text>
<text x="354.04" y="798.10" font-size="10" fill="#2c2c2c" text-anchor="middle" textLength="33.6" lengthAdjust="spacingAndGlyphs">Women</text>
<text x="393.17" y="798.10" font-size="10" font-weight="bold" fill="#111" text-anchor="middle" textLength="21.5" lengthAdjust="spacingAndGlyphs">Total</text>
<text x="432.30" y="798.10" font-size="10" fill="#2c2c2c" text-anchor="middle" textLength="19.2" lengthAdjust="spacingAndGlyphs">Men</text>
<text x="471.43" y="798.10" font-size="10" fill="#2c2c2c" text-anchor="middle" textLength="33.6" lengthAdjust="spacingAndGlyphs">Women</text>
<rect x="61.3" y="577.00" width="6.5" height="6.5" fill="#c5c5c5"/>
<text x="73" y="584.00" font-size="9.8" fill="#b4b4b4" textLength="55.4" lengthAdjust="spacingAndGlyphs">HC (n = 728)</text>
<rect x="61.3" y="597.40" width="6.5" height="6.5" fill="#5c1c62"/>
<text x="73" y="603.90" font-size="9.8" fill="#6a3570" textLength="53.1" lengthAdjust="spacingAndGlyphs">Very severe/</text>
<text x="73" y="615.65" font-size="9.8" fill="#6a3570" textLength="92.4" lengthAdjust="spacingAndGlyphs">critically ill COVID-19</text>
<text x="73" y="627.40" font-size="9.8" fill="#6a3570" textLength="71.6" lengthAdjust="spacingAndGlyphs">patients (n = 31)</text>
<text x="466.9" y="581.50" font-size="9.6" fill="#2a2a2a" textLength="40.8" lengthAdjust="spacingAndGlyphs"><tspan font-style="italic">P</tspan> = .0007</text>
<text x="92.3" y="10" font-size="11.7" fill="#222" textLength="41.5" lengthAdjust="spacingAndGlyphs">All ages</text>
<text x="202.4" y="10" font-size="11.7" fill="#222" textLength="53.8" lengthAdjust="spacingAndGlyphs">&lt; 50 years</text>
<text x="311.2" y="10" font-size="11.7" fill="#222" textLength="68.0" lengthAdjust="spacingAndGlyphs">50 – 70 years</text>
<text x="435" y="10" font-size="11.7" fill="#222" textLength="53.8" lengthAdjust="spacingAndGlyphs">&gt; 70 years</text>
</svg>
</body></html>
